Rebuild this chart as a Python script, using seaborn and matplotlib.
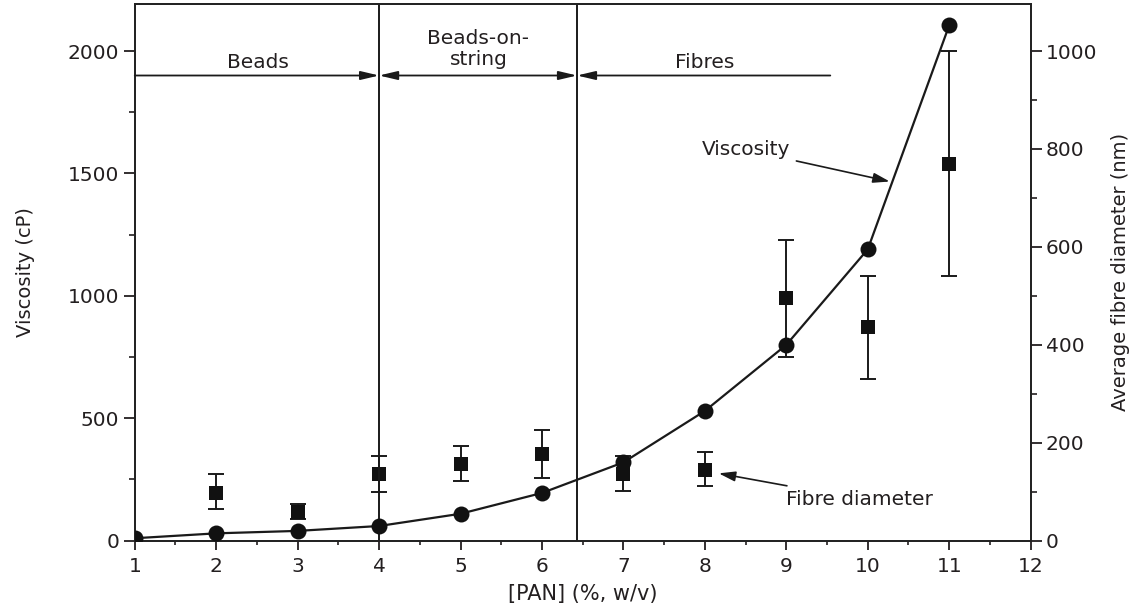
import numpy as np
import pandas as pd
import matplotlib
matplotlib.use("Agg")
import matplotlib.pyplot as plt
import seaborn as sns
from matplotlib.ticker import MultipleLocator

# ---- data ----
pan = [1, 2, 3, 4, 5, 6, 7, 8, 9, 10, 11]
viscosity = [10, 30, 40, 60, 110, 195, 320, 530, 800, 1190, 2105]

fibre_pan = [2, 3, 4, 5, 6, 7, 8, 9, 10, 11]
fibre_diam = [98, 58, 136, 157, 177, 136, 145, 496, 436, 770]
fibre_low = [64, 44, 100, 121, 128, 101, 112, 376, 331, 540]
fibre_high = [136, 74, 173, 194, 226, 172, 181, 615, 540, 1000]

region_bounds = [4, 6.43]
region_labels = ["Beads", "Beads-on-\nstring", "Fibres"]

xlabel = "[PAN] (%, w/v)"
ylabel_left = "Viscosity (cP)"
ylabel_right = "Average fibre diameter (nm)"

# ---- style ----
sns.set_theme(style="ticks")
plt.rcParams['font.family'] = ['DejaVu Sans']
TXT = "#231f20"
plt.rcParams.update({
    "text.color": TXT, "axes.labelcolor": TXT,
    "xtick.color": TXT, "ytick.color": TXT,
    "axes.edgecolor": "#222222", "axes.linewidth": 1.3,
})

fig = plt.figure(figsize=(11.42, 6.08), dpi=100)
ax = fig.add_axes([0.118, 0.1107, 0.7845, 0.8827])
ax2 = ax.twinx()

vdf = pd.DataFrame({"pan": pan, "viscosity": viscosity})
fdf = pd.DataFrame({"pan": fibre_pan, "diam": fibre_diam,
                    "low": fibre_low, "high": fibre_high})

# fibre diameter with error bars on right axis
yerr = np.array([fdf["diam"] - fdf["low"], fdf["high"] - fdf["diam"]])
ax2.errorbar(fdf["pan"], fdf["diam"], yerr=yerr, fmt="none",
             ecolor="#1a1a1a", elinewidth=1.4, capsize=5.5, capthick=1.4, zorder=2)
sns.scatterplot(data=fdf, x="pan", y="diam", ax=ax2, marker="s", s=100,
                color="#111111", edgecolor="#111111", linewidth=0, zorder=3,
                legend=False)

# viscosity line on left axis
sns.lineplot(data=vdf, x="pan", y="viscosity", ax=ax, color="#1a1a1a",
             linewidth=1.6, marker="o", markersize=11.5, markeredgewidth=0,
             markerfacecolor="#111111", zorder=4, legend=False)

ax.set_zorder(ax2.get_zorder() + 1)
ax.patch.set_visible(False)

# limits & ticks
ax.set_xlim(1, 12)
ax.set_ylim(0, 2192)
ax2.set_ylim(0, 1096)
ax.xaxis.set_major_locator(MultipleLocator(1))
ax.xaxis.set_minor_locator(MultipleLocator(0.5))
ax.yaxis.set_major_locator(MultipleLocator(500))
ax.yaxis.set_minor_locator(MultipleLocator(250))
ax2.yaxis.set_major_locator(MultipleLocator(200))
ax2.yaxis.set_minor_locator(MultipleLocator(100))

ax.tick_params(axis="x", which="major", direction="out", length=6.5, width=1.3,
               labelsize=14.5, pad=5)
ax.tick_params(axis="x", which="minor", direction="out", length=3.2, width=1.2)
ax.tick_params(axis="y", which="major", direction="out", length=8, width=1.3,
               labelsize=14.5, pad=3)
ax.tick_params(axis="y", which="minor", direction="out", length=4.5, width=1.2)
ax2.tick_params(axis="y", which="major", direction="out", length=8, width=1.3,
                labelsize=14.5, pad=3)
ax2.tick_params(axis="y", which="minor", direction="out", length=4.5, width=1.2)

ax.set_xlabel(xlabel, fontsize=15, labelpad=6)
ax.set_ylabel(ylabel_left, fontsize=14, labelpad=24)
ax2.set_ylabel(ylabel_right, fontsize=14, labelpad=10)

# region boundaries
for xb in region_bounds:
    ax.axvline(xb, color="#1a1a1a", linewidth=1.4, zorder=1)

yarr = 1900
hs = dict(color="#1a1a1a", lw=1.3, shrinkA=0, shrinkB=0, mutation_scale=20)
ax.annotate("", xy=(4, yarr), xytext=(1, yarr),
            arrowprops=dict(arrowstyle="-|>,head_length=0.55,head_width=0.13", **hs))
ax.annotate("", xy=(6.43, yarr), xytext=(4, yarr),
            arrowprops=dict(arrowstyle="<|-|>,head_length=0.55,head_width=0.13", **hs))
ax.annotate("", xy=(6.43, yarr), xytext=(9.54, yarr),
            arrowprops=dict(arrowstyle="-|>,head_length=0.55,head_width=0.13", **hs))

ax.text(2.51, 1953, region_labels[0], ha="center", va="center", fontsize=14.5)
ax.text(5.22, 2008, region_labels[1], ha="center", va="center", fontsize=14.5,
        linespacing=1.1)
ax.text(8.0, 1953, region_labels[2], ha="center", va="center", fontsize=14.5)

# annotations
ax.annotate("Viscosity", xy=(10.27, 1467), xytext=(9.05, 1596),
            ha="right", va="center", fontsize=14.5,
            arrowprops=dict(arrowstyle="-|>,head_length=0.5,head_width=0.15",
                            color="#1a1a1a", lw=1.2, shrinkA=2, shrinkB=0,
                            mutation_scale=20))
ax.annotate("Fibre diameter", xy=(8.17, 275), xytext=(9.0, 170),
            ha="left", va="center", fontsize=14.5,
            arrowprops=dict(arrowstyle="-|>,head_length=0.5,head_width=0.15",
                            color="#1a1a1a", lw=1.2, shrinkA=2, shrinkB=0,
                            mutation_scale=20))

for s in ["top", "right", "left", "bottom"]:
    ax.spines[s].set_visible(True)
    ax2.spines[s].set_visible(True)

fig.savefig("out.png", dpi=100)
